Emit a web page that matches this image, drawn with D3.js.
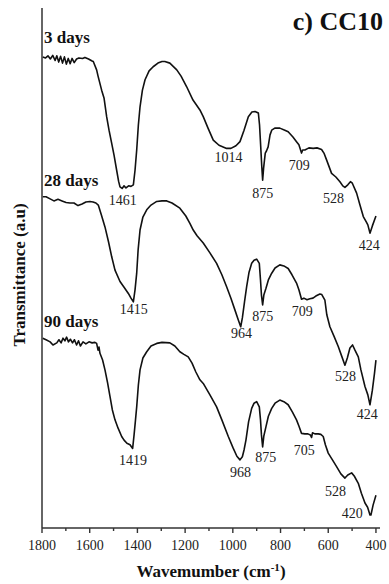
<!DOCTYPE html>
<html>
<head>
<meta charset="utf-8">
<script src="https://cdn.jsdelivr.net/npm/d3@7"></script>
<style>
  html, body { margin: 0; padding: 0; background: #fff; }
  svg { display: block; font-family: "Liberation Serif", "Times New Roman", serif; }
</style>
</head>
<body>
<svg id="chart" width="389" height="584"></svg>
<script>
// FTIR spectra of CC10 at three curing ages (wavenumber, transmittance a.u.)
const wn3 = [1797,1785,1775,1765,1755,1745,1738,1730,1722,1714,1706,1698,1690,1682,1674,1665,1655,1645,1630,1620,1605,1590,1585,1571,1565,1550,1540,1529,1519,1508,1498,1487,1479,1473,1464,1456,1448,1437,1427,1417,1410,1403,1396,1389,1379,1368,1351,1334,1314,1297,1285,1264,1235,1217,1194,1167,1138,1124,1104,1082,1058,1026,1008,987,970,953,935,920,907,893,888,883,879,875,871,864,859,852,844,837,824,803,782,768,748,733,723,712,707,698,681,663,647,628,618,607,586,568,551,539,530,518,507,499,481,467,453,440,434,425,415,400];
const tr3 = [90.6,90.4,90.8,90.2,90.9,89.9,90.8,89.6,90.7,89.4,90.6,89.2,90.3,89.3,90.3,89.5,90.2,90.4,90.3,90.5,90.2,89.8,89.7,88.1,86.9,84.2,82.7,79.1,76.5,74.0,71.7,68.8,66.7,65.6,65.3,65.8,65.4,65.8,65.7,66.0,68.8,72.7,77.5,81.0,84.2,86.2,87.9,88.7,89.4,89.7,89.7,89.4,88.1,86.9,84.9,82.3,80.4,79.1,76.9,74.6,73.6,73.0,73.0,73.5,74.3,76.5,79.1,80.0,80.1,79.8,77.5,73.3,69.8,66.9,69.2,72.1,72.5,73.3,75.6,76.5,76.9,76.9,76.5,76.2,75.2,74.3,73.7,72.1,72.7,72.7,73.1,73.0,73.1,72.8,72.1,70.8,68.2,67.5,66.6,65.8,65.5,66.0,66.6,66.3,64.4,62.1,59.9,58.8,58.3,56.7,58.1,60.0];

const wn28 = [1797,1783,1766,1750,1733,1716,1699,1683,1666,1649,1632,1616,1599,1586,1574,1564,1551,1536,1521,1508,1494,1473,1456,1438,1427,1417,1410,1403,1397,1389,1377,1361,1343,1319,1297,1277,1255,1222,1197,1180,1166,1150,1124,1096,1068,1046,1026,1008,991,977,967,960,951,942,932,921,911,900,889,884,880,875,870,861,851,837,823,803,786,768,752,733,723,712,702,689,677,664,652,635,627,614,606,593,576,558,544,530,520,509,498,488,474,463,446,434,425,415,406,400];
const tr28 = [63.7,63.7,63.3,62.9,63.2,62.9,62.6,62.5,62.5,62.0,62.3,62.7,62.8,62.7,62.5,62.1,60.2,57.9,55.0,52.2,49.6,47.4,46.3,45.1,44.2,43.5,45.8,49.0,53.5,57.3,59.8,61.2,62.1,62.8,62.9,62.9,62.5,61.5,60.0,58.6,57.3,56.2,54.8,52.9,50.9,48.7,46.4,44.2,41.9,40.0,38.7,40.4,43.5,46.4,49.2,50.9,51.5,51.7,50.9,47.7,44.8,42.9,44.8,46.1,47.7,49.0,50.0,50.6,50.4,49.9,48.7,47.1,45.8,44.0,44.2,43.9,44.1,44.2,44.6,45.0,44.9,43.8,41.0,38.7,36.9,34.9,33.1,31.3,32.7,34.6,35.2,34.2,32.9,30.4,27.2,25.6,23.7,26.5,29.8,32.3];

const wn90 = [1797,1783,1766,1754,1738,1729,1720,1712,1704,1697,1689,1681,1672,1664,1655,1647,1639,1628,1616,1603,1590,1578,1571,1565,1561,1557,1546,1536,1525,1515,1505,1494,1481,1466,1456,1444,1431,1420,1414,1408,1403,1396,1389,1377,1361,1343,1319,1297,1264,1243,1222,1205,1187,1171,1155,1138,1124,1096,1068,1046,1019,999,983,970,960,953,945,934,921,911,900,889,884,880,875,870,861,851,837,823,803,786,768,750,733,723,712,698,685,675,670,666,656,642,631,621,612,600,585,565,547,530,518,502,491,474,461,446,435,425,421,412,400];
const tr90 = [36.5,36.2,35.8,35.2,35.6,36.2,35.6,36.5,36.0,36.7,35.8,36.3,35.6,36.2,35.2,36.0,35.0,35.8,35.4,35.8,35.6,35.7,35.5,34.2,34.8,33.6,32.3,30.4,27.9,25.3,22.7,20.8,19.2,17.6,16.9,16.3,16.0,15.3,17.9,20.8,23.3,27.5,30.4,32.7,33.9,35.0,35.5,35.7,35.6,35.0,33.9,33.4,32.9,31.7,30.0,28.5,27.8,25.6,23.3,20.8,17.6,15.4,13.8,13.1,13.7,15.0,16.9,20.4,23.0,24.0,24.3,23.3,20.8,17.9,15.6,17.7,19.5,21.5,23.0,24.0,24.6,24.3,23.7,22.3,20.8,19.6,18.2,18.1,18.1,17.9,17.4,18.3,18.1,18.1,18.0,17.6,16.0,14.4,13.3,11.8,10.4,9.6,10.2,10.6,10.0,8.6,6.7,4.8,4.0,2.5,2.5,4.4,6.3];

const seriesNames = ["3 days", "28 days", "90 days"];
const peaks3 = [1461, 1014, 875, 709, 528, 424];
const peaks28 = [1415, 964, 875, 709, 528, 424];
const peaks90 = [1419, 968, 875, 705, 528, 420];
const xTicks = [1800, 1600, 1400, 1200, 1000, 800, 600, 400];
const xMinorTicks = [1700, 1500, 1300, 1100, 900, 700, 500];
const chartTitle = "c) CC10";

const svg = d3.select("#chart");
const x = d3.scaleLinear().domain([1800, 383]).range([42, 380]);
const y = d3.scaleLinear().domain([0, 100]).range([528, 8]);

const series = [
  { name: seriesNames[0], pts: wn3.map((w, i) => [w, tr3[i]]), peaks: peaks3 },
  { name: seriesNames[1], pts: wn28.map((w, i) => [w, tr28[i]]), peaks: peaks28 },
  { name: seriesNames[2], pts: wn90.map((w, i) => [w, tr90[i]]), peaks: peaks90 }
];

// label placement relative to the curve at each band, in pixels [dx, dy]
const labelShift = [
  [[0, 18], [-1, 14], [0, 18], [-3, 19], [-12, 16], [-1, 18]],
  [[0, 16], [0, 15], [0, 16], [0, 17], [0, 17], [-3, 16]],
  [[0, 19], [0, 18], [3, 15], [1, 21], [-10, 18], [-19, 4]]
];
const seriesLabelY = [42.5, 186, 327];

const line = d3.line().x(d => x(d[0])).y(d => y(d[1]));

function valueAt(pts, w) {
  const asc = pts.slice().sort((a, b) => a[0] - b[0]);
  const i = d3.bisector(d => d[0]).left(asc, w);
  if (i <= 0) return asc[0][1];
  if (i >= asc.length) return asc[asc.length - 1][1];
  const a = asc[i - 1], b = asc[i];
  return a[1] + (b[1] - a[1]) * (w - a[0]) / (b[0] - a[0]);
}

// spectra
series.forEach((s, si) => {
  svg.append("path")
    .datum(s.pts)
    .attr("d", line)
    .attr("fill", "none")
    .attr("stroke", "#111")
    .attr("stroke-width", 1.6)
    .attr("stroke-linejoin", "round");

  svg.append("text")
    .attr("x", 44)
    .attr("y", seriesLabelY[si])
    .attr("font-size", 17)
    .attr("font-weight", "bold")
    .attr("fill", "#111")
    .text(s.name);

  s.peaks.forEach((p, pi) => {
    const sh = labelShift[si][pi];
    svg.append("text")
      .attr("x", x(p) + sh[0])
      .attr("y", y(valueAt(s.pts, p)) + sh[1])
      .attr("text-anchor", "middle")
      .attr("font-size", 14)
      .attr("fill", "#222")
      .text(p);
  });
});

// axes
svg.append("line")
  .attr("x1", 42).attr("x2", 42).attr("y1", 8).attr("y2", 528)
  .attr("stroke", "#333").attr("stroke-width", 1.5);
svg.append("line")
  .attr("x1", 42).attr("x2", 380).attr("y1", 528).attr("y2", 528)
  .attr("stroke", "#333").attr("stroke-width", 1.5);

const gx = svg.append("g").attr("transform", "translate(0,528)");
gx.selectAll(".major").data(xTicks).join("line")
  .attr("x1", d => x(d)).attr("x2", d => x(d)).attr("y1", 0).attr("y2", 5)
  .attr("stroke", "#333").attr("stroke-width", 1.4);
gx.selectAll(".minor").data(xMinorTicks).join("line")
  .attr("x1", d => x(d)).attr("x2", d => x(d)).attr("y1", 0).attr("y2", 3)
  .attr("stroke", "#333").attr("stroke-width", 1.4);
gx.selectAll("text").data(xTicks).join("text")
  .attr("x", d => x(d)).attr("y", 22)
  .attr("text-anchor", "middle")
  .attr("font-size", 14)
  .attr("fill", "#222")
  .text(d => d);

// axis titles
const xt = svg.append("text")
  .attr("x", 211).attr("y", 577)
  .attr("text-anchor", "middle")
  .attr("font-size", 17)
  .attr("font-weight", "bold")
  .attr("fill", "#111");
xt.append("tspan").text("Wavemumber (cm");
xt.append("tspan").attr("dy", -6).attr("font-size", 11).text("-1");
xt.append("tspan").attr("dy", 6).text(")");

svg.append("text")
  .attr("transform", "translate(25,275) rotate(-90)")
  .attr("text-anchor", "middle")
  .attr("font-size", 17)
  .attr("font-weight", "bold")
  .attr("fill", "#111")
  .text("Transmittance (a.u)");

svg.append("text")
  .attr("x", 383).attr("y", 30)
  .attr("text-anchor", "end")
  .attr("font-size", 26)
  .attr("font-weight", "bold")
  .attr("fill", "#111")
  .text(chartTitle);
</script>
</body>
</html>
